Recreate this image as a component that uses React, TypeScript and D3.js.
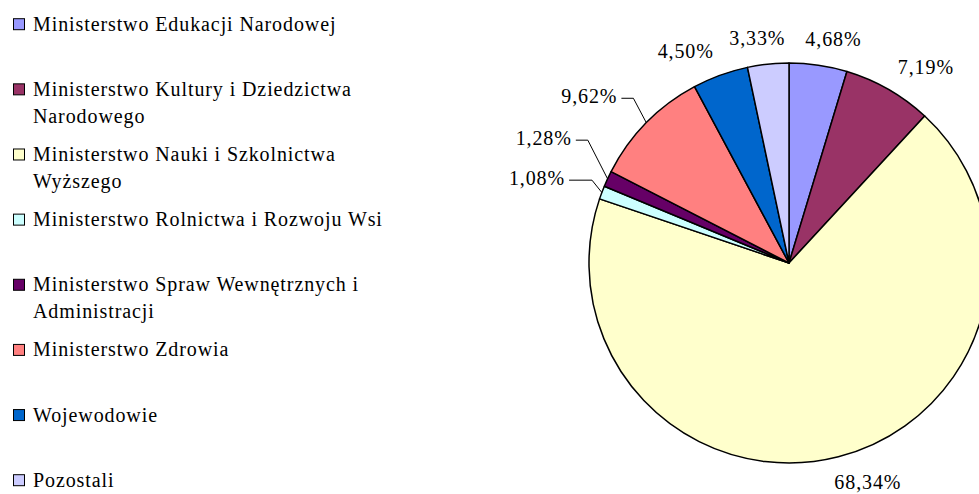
import React, { useEffect, useRef } from "react";
import * as d3 from "d3";

const categories = [
  "Ministerstwo Edukacji Narodowej",
  "Ministerstwo Kultury i Dziedzictwa\nNarodowego",
  "Ministerstwo Nauki i Szkolnictwa\nWyższego",
  "Ministerstwo Rolnictwa i Rozwoju Wsi",
  "Ministerstwo Spraw Wewnętrznych i\nAdministracji",
  "Ministerstwo Zdrowia",
  "Wojewodowie",
  "Pozostali",
];
const values = [4.68, 7.19, 68.34, 1.08, 1.28, 9.62, 4.5, 3.33];
const colors = ["#9999FF", "#993366", "#FFFFCC", "#CCFFFF", "#660066", "#FF8080", "#0066CC", "#CCCCFF"];
// slices whose labels are pulled out with leader lines
const leaderSlices = [
  "Ministerstwo Rolnictwa i Rozwoju Wsi",
  "Ministerstwo Spraw Wewnętrznych i\nAdministracji",
  "Ministerstwo Zdrowia",
];

const fmt = (v: number) => d3.format(".2f")(v).replace(".", ",") + "%";

export default function App() {
  const ref = useRef<SVGSVGElement>(null);
  useEffect(() => {
    const svg = d3.select(ref.current);
    svg.selectAll("*").remove();
    const font = "'Liberation Serif', 'Times New Roman', serif";
    const fs = 20;
    const ls = 0.9;
    const cx = 789, cy = 263, r = 200;

    // Legend
    const ly = d3.scaleLinear().domain([0, categories.length - 1]).range([30.7, 486.7]);
    const legend = svg.append("g");
    categories.forEach((c, i) => {
      const base = ly(i);
      legend.append("rect")
        .attr("x", 13.5).attr("y", base - 12).attr("width", 11).attr("height", 11)
        .attr("fill", colors[i]).attr("stroke", "#000").attr("stroke-width", 1);
      c.split("\n").forEach((line, j) => {
        legend.append("text")
          .attr("x", 33).attr("y", base + j * 26.7)
          .attr("font-family", font).attr("font-size", fs).attr("letter-spacing", ls)
          .attr("fill", "#000").text(line);
      });
    });

    // Pie
    const pie = d3.pie<number>().sort(null).value((d) => d);
    const arcs = pie(values);
    const arc = d3.arc<d3.PieArcDatum<number>>().innerRadius(0).outerRadius(r);
    const g = svg.append("g").attr("transform", `translate(${cx},${cy})`);
    g.selectAll("path").data(arcs).join("path")
      .attr("d", arc as any)
      .attr("fill", (_d, i) => colors[i])
      .attr("stroke", "#000").attr("stroke-width", 1.5).attr("stroke-linejoin", "round");

    // Labels
    const leaders: { i: number; a: number; x: number; y: number }[] = [];
    arcs.forEach((d, i) => {
      const a = (d.startAngle + d.endAngle) / 2;
      const s = Math.sin(a), c = Math.cos(a);
      if (leaderSlices.includes(categories[i])) {
        leaders.push({ i, a, x: 235 * s, y: -235 * c });
        return;
      }
      const px = (r + 19) * s, py = -(r + 19) * c;
      const t = g.append("text")
        .attr("font-family", font).attr("font-size", fs).attr("letter-spacing", ls)
        .attr("text-anchor", "middle").attr("fill", "#000").text(fmt(values[i]));
      const w = (t.node() as SVGTextElement).getComputedTextLength();
      const k = Math.max(-1, Math.min(1, 3 * s));
      t.attr("x", px + (k * w) / 2).attr("y", py - c * 7 + 7);
    });
    // resolve collisions: push upward
    leaders.sort((p, q) => q.y - p.y);
    for (let j = 1; j < leaders.length; j++) {
      if (leaders[j - 1].y - leaders[j].y < 40) leaders[j].y = leaders[j - 1].y - 40;
    }
    leaders.forEach((L) => {
      const ax = r * Math.sin(L.a), ay = -r * Math.cos(L.a);
      const ex = Math.max(L.x + 12, ax - Math.abs(ay - L.y) * 0.8);
      g.append("polyline")
        .attr("points", `${L.x},${L.y} ${ex},${L.y} ${ax},${ay}`)
        .attr("fill", "none").attr("stroke", "#000").attr("stroke-width", 1);
      g.append("text")
        .attr("x", L.x - 4).attr("y", L.y + 5)
        .attr("font-family", font).attr("font-size", fs).attr("letter-spacing", ls)
        .attr("text-anchor", "end").attr("fill", "#000").text(fmt(values[L.i]));
    });
  }, []);
  return (
    <svg
      ref={ref}
      width={979}
      height={494}
      style={{ position: "absolute", left: 0, top: 0, background: "#fff", display: "block" }}
    />
  );
}
